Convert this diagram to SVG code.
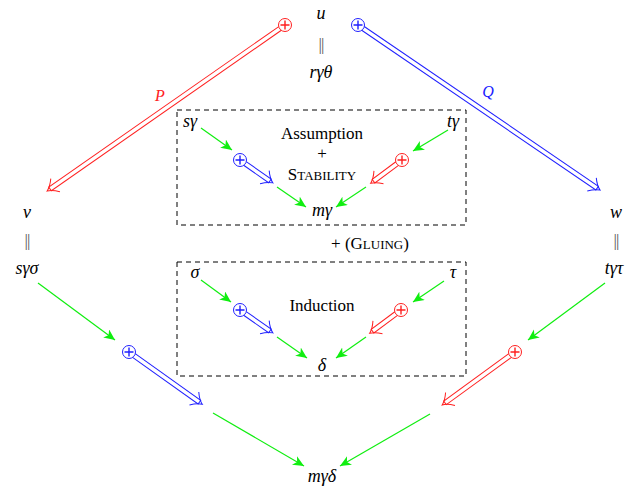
<svg xmlns="http://www.w3.org/2000/svg" width="628" height="490" viewBox="0 0 628 490">
<style>
.m{font-family:"Liberation Serif",serif;font-style:italic;font-size:18px;fill:#000;text-anchor:middle}
.t{font-family:"Liberation Serif",serif;font-size:17px;fill:#000;text-anchor:middle}
.pp{font-family:"Liberation Serif",serif;font-size:17px;fill:#555;text-anchor:middle;letter-spacing:-1px}
.g{stroke:#10ee10;stroke-width:1.2;fill:none;marker-end:url(#ga)}
.box{fill:none;stroke:#000;stroke-width:1;stroke-dasharray:5,4}
.red{stroke:#ff2020}
.blue{stroke:#2020ff}
.o{stroke-width:5.5;fill:none}
.i{stroke:#fff;stroke-width:3.5;fill:none}
.h{fill:none;stroke-width:1}
.c{fill:#fff;stroke-width:1}
.p{stroke-width:1.4;fill:none}
</style>
<defs>
<marker id="ga" markerUnits="userSpaceOnUse" markerWidth="14" markerHeight="12" refX="11" refY="5" orient="auto">
<path d="M0,0 L11,5 L0,10 L3,5 Z" fill="#10ee10"/>
</marker>
</defs>
<g id="conn-green">
<path class="g" d="M201,128 L232,150"/>
<path class="g" d="M448,130 L413,151"/>
<path class="g" d="M277,187 L306,207"/>
<path class="g" d="M366,187 L336,207"/>
<path class="g" d="M201,280 L231,302"/>
<path class="g" d="M444,281 L413,302"/>
<path class="g" d="M277,337 L307,358"/>
<path class="g" d="M366,337 L336,358"/>
<path class="g" d="M38,283 L115,340"/>
<path class="g" d="M605,283 L528,340"/>
<path class="g" d="M213,413 L304,466"/>
<path class="g" d="M430,414 L340,466"/>
</g>
<g id="conn-double">
<g class="red">
<g transform="translate(285,25) rotate(145.1)"><path class="o" d="M6,0 H287"/><path class="i" d="M6,0 H286"/><path class="h" d="M280,-8 Q285,-2 290,0 Q285,2 280,8"/></g>
<circle class="c" cx="285" cy="25" r="6.5"/><path class="p" d="M280.5,25 H289.5 M285,20.5 V29.5"/>
</g>
<g class="blue">
<g transform="translate(358,25) rotate(34.3)"><path class="o" d="M6,0 H290"/><path class="i" d="M6,0 H289"/><path class="h" d="M283,-8 Q288,-2 293,0 Q288,2 283,8"/></g>
<circle class="c" cx="358" cy="25" r="6.5"/><path class="p" d="M353.5,25 H362.5 M358,20.5 V29.5"/>
</g>
<g class="blue">
<g transform="translate(240,160) rotate(34.9)"><path class="o" d="M6,0 H37"/><path class="i" d="M6,0 H36"/><path class="h" d="M30,-8 Q35,-2 40,0 Q35,2 30,8"/></g>
<circle class="c" cx="240" cy="160" r="6.5"/><path class="p" d="M235.5,160 H244.5 M240,155.5 V164.5"/>
</g>
<g class="red">
<g transform="translate(402,160) rotate(143.4)"><path class="o" d="M6,0 H36"/><path class="i" d="M6,0 H35"/><path class="h" d="M29,-8 Q34,-2 39,0 Q34,2 29,8"/></g>
<circle class="c" cx="402" cy="160" r="6.5"/><path class="p" d="M397.5,160 H406.5 M402,155.5 V164.5"/>
</g>
<g class="blue">
<g transform="translate(240,310) rotate(34.9)"><path class="o" d="M6,0 H37"/><path class="i" d="M6,0 H36"/><path class="h" d="M30,-8 Q35,-2 40,0 Q35,2 30,8"/></g>
<circle class="c" cx="240" cy="310" r="6.5"/><path class="p" d="M235.5,310 H244.5 M240,305.5 V314.5"/>
</g>
<g class="red">
<g transform="translate(401,310) rotate(143.4)"><path class="o" d="M6,0 H36"/><path class="i" d="M6,0 H35"/><path class="h" d="M29,-8 Q34,-2 39,0 Q34,2 29,8"/></g>
<circle class="c" cx="401" cy="310" r="6.5"/><path class="p" d="M396.5,310 H405.5 M401,305.5 V314.5"/>
</g>
<g class="blue">
<g transform="translate(129,352) rotate(35.5)"><path class="o" d="M6,0 H87"/><path class="i" d="M6,0 H86"/><path class="h" d="M80,-8 Q85,-2 90,0 Q85,2 80,8"/></g>
<circle class="c" cx="129" cy="352" r="6.5"/><path class="p" d="M124.5,352 H133.5 M129,347.5 V356.5"/>
</g>
<g class="red">
<g transform="translate(515,352) rotate(144)"><path class="o" d="M6,0 H87"/><path class="i" d="M6,0 H86"/><path class="h" d="M80,-8 Q85,-2 90,0 Q85,2 80,8"/></g>
<circle class="c" cx="515" cy="352" r="6.5"/><path class="p" d="M510.5,352 H519.5 M515,347.5 V356.5"/>
</g>
<text x="160" y="101" class="m" style="fill:#ff2020;font-size:16px">P</text>
<text x="488" y="97" class="m" style="fill:#2020ff;font-size:16px">Q</text>
</g>
<g id="box1"><rect class="box" x="177" y="110" width="289" height="115"/></g>
<g id="box2"><rect class="box" x="177" y="262" width="289" height="114"/></g>
<g id="u"><text class="m" x="321" y="19">u</text><text class="pp" x="321" y="50">||</text><text class="m" x="321" y="78">rγθ</text></g>
<g id="v"><text class="m" x="27" y="218">v</text><text class="pp" x="27" y="246">||</text><text class="m" x="27" y="274">sγσ</text></g>
<g id="w"><text class="m" x="616" y="218">w</text><text class="pp" x="616" y="246">||</text><text class="m" x="614" y="274">tγτ</text></g>
<g id="sgamma"><text class="m" x="190" y="127">sγ</text></g>
<g id="tgamma"><text class="m" x="453" y="127">tγ</text></g>
<g id="assumption"><text class="t" x="322" y="139">Assumption</text><text class="t" x="322" y="159">+</text><text class="t" x="322" y="180"><tspan>S</tspan><tspan font-size="13">TABILITY</tspan></text></g>
<g id="mgamma"><text class="m" x="322" y="216">mγ</text></g>
<g id="gluing"><text class="t" x="370" y="249">+ (G<tspan font-size="13">LUING</tspan>)</text></g>
<g id="sigma"><text class="m" x="195" y="278">σ</text></g>
<g id="tau"><text class="m" x="453" y="278">τ</text></g>
<g id="induction"><text class="t" x="322" y="311">Induction</text></g>
<g id="delta"><text class="m" x="322" y="371">δ</text></g>
<g id="mgd"><text class="m" x="322" y="482">mγδ</text></g>
</svg>
